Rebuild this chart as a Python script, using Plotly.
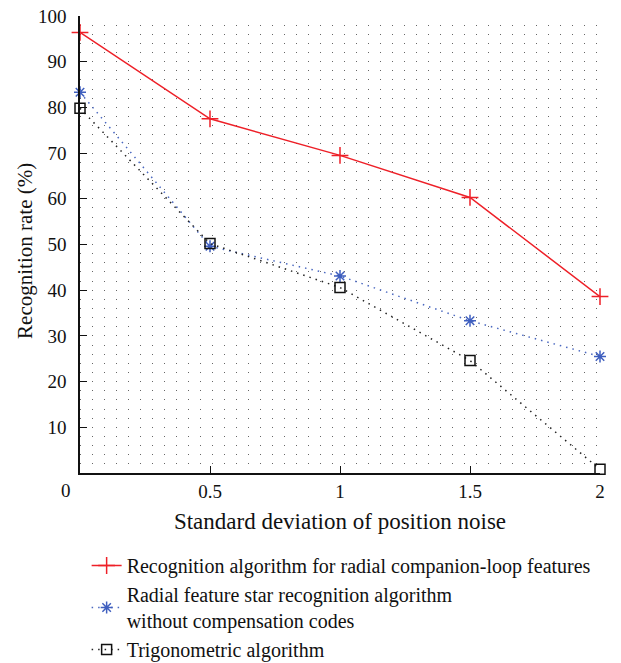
import plotly.graph_objects as go

x_noise = [0, 0.5, 1, 1.5, 2]
rate_companion = [96.4, 77.5, 69.5, 60.3, 38.6]
rate_radial = [83.3, 49.6, 43.1, 33.3, 25.5]
rate_trig = [79.8, 50.2, 40.6, 24.6, 0.8]

names = [
    "Recognition algorithm for radial companion-loop features",
    "Radial feature star recognition algorithm<br>without compensation codes",
    "Trigonometric algorithm",
]
y_title = "Recognition rate (%)"

FONT = "Liberation Serif"
fig = go.Figure()
fig.add_trace(go.Scatter(
    x=x_noise, y=rate_companion, name=names[0], mode="lines+markers",
    line=dict(color="#ee2028", width=1.5),
    marker=dict(symbol="cross-thin", size=12, line=dict(color="#ee2028", width=1.5)),
    cliponaxis=False))
fig.add_trace(go.Scatter(
    x=x_noise, y=rate_radial, name=names[1], mode="lines+markers",
    line=dict(color="#4a68c0", width=1.5, dash="1.5px,5px"),
    marker=dict(symbol="asterisk-open", size=10, color="#3f5fbf", line=dict(color="#3f5fbf", width=1.5)),
    cliponaxis=False))
fig.add_trace(go.Scatter(
    x=x_noise, y=rate_trig, name=names[2], mode="lines+markers",
    line=dict(color="#222222", width=1.5, dash="1.5px,5px"),
    marker=dict(symbol="square-open", size=10, color="#111111", line=dict(color="#111111", width=1.5)),
    cliponaxis=False))

grid_dash = "1.3px,10.7px"
fig.update_layout(
    width=621, height=663,
    margin=dict(l=80, r=21, t=16, b=189.5, autoexpand=False),
    paper_bgcolor="white", plot_bgcolor="white",
    font=dict(family=FONT, size=19, color="#111111"),
    showlegend=True,
    legend=dict(xref="container", yref="container",
                x=0.1395, y=1 - 546 / 663, xanchor="left", yanchor="top",
                font=dict(family=FONT, size=20), bgcolor="rgba(0,0,0,0)",
                tracegroupgap=0),
    xaxis=dict(range=[0, 2], tickvals=[0, 0.5, 1, 1.5, 2],
               ticktext=["", "0.5", "1", "1.5", "2"],
               ticks="inside", ticklen=7, tickwidth=1.2, tickcolor="#111",
               showline=True, linecolor="#111", linewidth=1.5,
               showgrid=False, zeroline=False,
               title=dict(text="Standard deviation of position noise", standoff=12),
               ticklabelstandoff=0),
    yaxis=dict(range=[0, 100], tickvals=[10, 20, 30, 40, 50, 60, 70, 80, 90, 100],
               ticks="inside", ticklen=7, tickwidth=1.2, tickcolor="#111",
               showline=True, linecolor="#111", linewidth=1.5,
               showgrid=True, gridcolor="#666", gridwidth=1.2, griddash=grid_dash,
               minor=dict(dtick=2, showgrid=True, gridcolor="#666", gridwidth=1.2, griddash=grid_dash),
               zeroline=False,
               ticklabelstandoff=8),
)
fig.add_annotation(x=-0.1058, y=0.486, xref="paper", yref="paper", text=y_title,
                   textangle=-90, showarrow=False, xanchor="center", yanchor="middle",
                   font=dict(family=FONT, size=21))
fig.add_annotation(x=0, y=0, xref="x", yref="y", text="0", showarrow=False,
                   xshift=-14, yshift=-17, font=dict(family=FONT, size=19))
fig.write_html("out.html")
